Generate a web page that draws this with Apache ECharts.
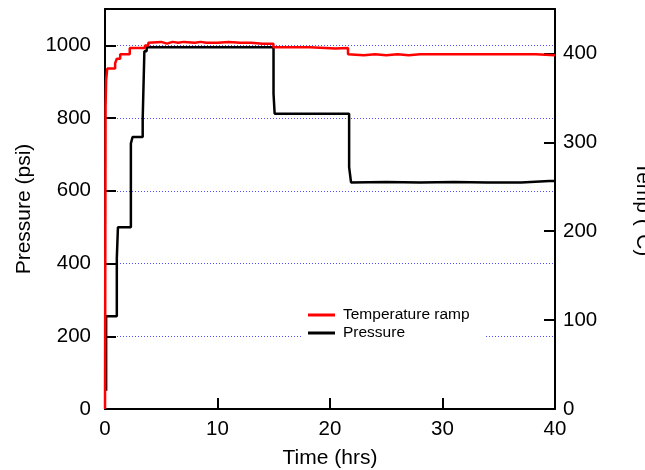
<!DOCTYPE html>
<html>
<head>
<meta charset="utf-8">
<script src="https://cdn.jsdelivr.net/npm/echarts@6/dist/echarts.min.js"></script>
<style>html,body{margin:0;padding:0;background:#fff}#c{width:645px;height:470px}</style>
</head>
<body>
<div id="c"></div>
<script>
// Temperature ramp (right axis, °C) vs time (hrs)
var tempTime = [0, 0.05, 0.1, 0.2, 0.9, 0.9, 1.05, 1.05, 1.35, 1.35, 2.2, 2.2, 3.55, 3.55, 3.85, 3.85, 5, 5.5, 6, 6.5, 7, 8, 8.5, 9, 10, 11, 12, 13, 14, 14.97, 14.97, 18.2, 18.2, 20.5, 20.6, 21.6, 21.6, 23, 24, 25, 26, 27, 28, 30, 33, 36, 38.3, 38.4, 40];
var tempValues = [0, 340, 370, 383, 383, 389, 389, 394, 394, 399, 399, 406, 406, 409, 409, 412, 413, 411, 413, 412, 413, 412, 413, 412, 412, 413, 412, 412, 411, 411, 407, 407, 405.5, 405.5, 407, 406, 399, 398, 399, 398, 399, 398, 399, 399, 399, 399, 399, 398, 398];
// Pressure (left axis, psi) vs time (hrs)
var presTime = [0.1, 0.1, 1.05, 1.05, 1.15, 1.15, 2.3, 2.3, 2.45, 2.45, 3.35, 3.35, 3.5, 3.5, 3.7, 3.7, 14.98, 14.98, 15.08, 15.08, 21.7, 21.7, 21.87, 21.87, 25, 28, 31, 34, 37, 39.5, 40];
var presValues = [50, 255, 255, 415, 415, 500, 500, 730, 730, 748, 748, 798, 798, 984, 984, 995, 995, 867, 867, 812, 812, 665, 665, 623, 624, 623, 624, 623, 623, 627, 627];
var xTicks = [0, 10, 20, 30, 40];
var pressureTicks = [0, 200, 400, 600, 800, 1000];
var tempTicks = [0, 100, 200, 300, 400];

function zip(a, b) { return a.map(function (v, i) { return [v, b[i]]; }); }

var FONT = "'Liberation Sans', Arial, sans-serif";
var chart = echarts.init(document.getElementById('c'), null, {renderer: 'canvas'});
var axisLine = {show: true, onZero: false, lineStyle: {color: '#000', width: 2}};
var tick = {show: true, inside: true, length: 11, lineStyle: {color: '#000', width: 2}};
chart.setOption({
  animation: false,
  backgroundColor: '#fff',
  textStyle: {fontFamily: FONT},
  grid: {left: 105, right: 90, top: 9, height: 400, containLabel: false, outerBoundsMode: 'none'},
  legend: {
    orient: 'vertical', left: 302, top: 301,
    backgroundColor: '#fff',
    padding: [5, 16, 5, 6],
    icon: 'rect',
    itemWidth: 27, itemHeight: 3, itemGap: 0,
    data: ['Temperature ramp', 'Pressure'],
    textStyle: {fontFamily: FONT, fontSize: 15.5, lineHeight: 18, color: '#000', padding: [0, 0, 0, 3]}
  },
  xAxis: [{
    type: 'value', min: xTicks[0], max: xTicks[xTicks.length - 1], interval: 10,
    axisLine: axisLine, axisTick: tick,
    axisLabel: {color: '#000', fontSize: 20.5, margin: 10, fontFamily: FONT},
    splitLine: {show: false},
    name: 'Time (hrs)', nameLocation: 'middle', nameGap: 39,
    nameTextStyle: {color: '#000', fontSize: 21, fontFamily: FONT}
  }, {
    type: 'value', position: 'top', min: 0, max: 40,
    axisLine: axisLine, axisTick: {show: false}, axisLabel: {show: false}, splitLine: {show: false}
  }],
  yAxis: [{
    type: 'value', position: 'left', min: 0, max: 1100, interval: 200,
    axisLine: axisLine, axisTick: tick,
    axisLabel: {color: '#000', fontSize: 20.5, margin: 14, showMaxLabel: false, fontFamily: FONT,
      formatter: function (v) { return pressureTicks.indexOf(v) >= 0 ? String(v) : ''; }},
    splitLine: {show: true, showMinLine: false, showMaxLine: false,
      lineStyle: {color: '#4d4dff', width: 1, type: [1, 2]}},
    name: 'Pressure (psi)', nameLocation: 'middle', nameGap: 69, nameRotate: 90,
    nameTextStyle: {color: '#000', fontSize: 21, fontFamily: FONT}
  }, {
    type: 'value', position: 'right', min: 0, max: 450, interval: 100,
    axisLine: axisLine, axisTick: tick,
    axisLabel: {color: '#000', fontSize: 20.5, margin: 8, showMaxLabel: false, fontFamily: FONT,
      formatter: function (v) { return tempTicks.indexOf(v) >= 0 ? String(v) : ''; }},
    splitLine: {show: false},
    name: 'Temp (°C)', nameLocation: 'middle', nameGap: 77, nameRotate: -90,
    nameTextStyle: {color: '#000', fontSize: 21, fontFamily: FONT, padding: [0, 0, 0, 0]}
  }],
  series: [{
    name: 'Pressure', type: 'line', xAxisIndex: 0, yAxisIndex: 0,
    data: zip(presTime, presValues), symbol: 'none', clip: false,
    lineStyle: {color: '#000', width: 2.5}, itemStyle: {color: '#000'}, z: 3
  }, {
    name: 'Temperature ramp', type: 'line', xAxisIndex: 0, yAxisIndex: 1,
    data: zip(tempTime, tempValues), symbol: 'none', clip: false,
    lineStyle: {color: '#ff0000', width: 2.5}, itemStyle: {color: '#ff0000'}, z: 4
  }]
});
</script>
</body>
</html>
